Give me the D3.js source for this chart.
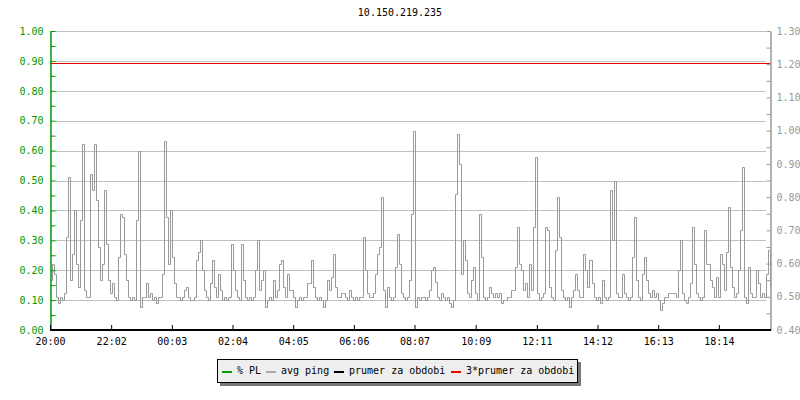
<!DOCTYPE html>
<html>
<head>
<meta charset="utf-8">
<script src="https://cdn.jsdelivr.net/npm/d3@7"></script>
<style>
  body { margin: 0; background: #fff; }
  text { font-family: "DejaVu Sans Mono", monospace; font-size: 10px; }
</style>
</head>
<body>
<svg id="chart" width="800" height="400"></svg>
<script>
const title = "10.150.219.235";
const startTime = new Date(2020, 0, 1, 20, 0);
const spanMinutes = 1436;
const stepMinutes = 4;
const xTickMinutes = [0, 122, 243, 364, 485, 606, 727, 849, 971, 1092, 1213, 1334];
const leftTicks = [0, 0.1, 0.2, 0.3, 0.4, 0.5, 0.6, 0.7, 0.8, 0.9, 1.0];
const rightTicks = [0.4, 0.5, 0.6, 0.7, 0.8, 0.9, 1.0, 1.1, 1.2, 1.3];
const legendLabels = ["% PL", "avg ping", "prumer za obdobi", "3*prumer za obdobi"];
const plAverage = 0;
const plTriple = 0.892;

// avg ping, one value every 4 minutes (right axis)
const avgPing = [
  0.55, 0.60, 0.57, 0.50, 0.48, 0.50, 0.49, 0.51, 0.68, 0.86,
  0.55, 0.63, 0.76, 0.60, 0.53, 0.73, 0.96, 0.52, 0.50, 0.50,
  0.87, 0.82, 0.96, 0.79, 0.65, 0.55, 0.60, 0.82, 0.66, 0.55,
  0.51, 0.54, 0.50, 0.49, 0.62, 0.75, 0.74, 0.63, 0.55, 0.50,
  0.49, 0.50, 0.49, 0.73, 0.94, 0.47, 0.50, 0.50, 0.54, 0.50,
  0.51, 0.49, 0.50, 0.48, 0.50, 0.50, 0.57, 0.97, 0.74, 0.60,
  0.76, 0.62, 0.54, 0.50, 0.50, 0.49, 0.50, 0.52, 0.53, 0.50,
  0.49, 0.49, 0.50, 0.61, 0.635, 0.67, 0.58, 0.52, 0.50, 0.49,
  0.54, 0.61, 0.53, 0.50, 0.57, 0.52, 0.49, 0.50, 0.49, 0.50,
  0.66, 0.58, 0.52, 0.50, 0.49, 0.66, 0.55, 0.50, 0.49, 0.50,
  0.49, 0.50, 0.58, 0.67, 0.52, 0.55, 0.58, 0.47, 0.49, 0.50,
  0.49, 0.55, 0.50, 0.52, 0.60, 0.61, 0.53, 0.50, 0.57, 0.52,
  0.52, 0.50, 0.47, 0.49, 0.50, 0.49, 0.50, 0.50, 0.54, 0.54,
  0.61, 0.53, 0.50, 0.49, 0.50, 0.49, 0.47, 0.49, 0.55, 0.52,
  0.56, 0.63, 0.53, 0.50, 0.50, 0.51, 0.51, 0.50, 0.49, 0.52,
  0.50, 0.49, 0.50, 0.49, 0.50, 0.50, 0.68, 0.58, 0.51, 0.50,
  0.50, 0.51, 0.57, 0.63, 0.65, 0.80, 0.52, 0.47, 0.53, 0.50,
  0.49, 0.50, 0.59, 0.69, 0.60, 0.51, 0.50, 0.49, 0.50, 0.55,
  0.75, 1.00, 0.47, 0.50, 0.49, 0.50, 0.50, 0.49, 0.50, 0.52,
  0.58, 0.59, 0.545, 0.50, 0.49, 0.51, 0.50, 0.49, 0.50, 0.48,
  0.47, 0.49, 0.81, 0.99, 0.90, 0.57, 0.67, 0.61, 0.51, 0.50,
  0.55, 0.59, 0.51, 0.49, 0.75, 0.62, 0.50, 0.49, 0.50, 0.53,
  0.51, 0.50, 0.51, 0.50, 0.51, 0.48, 0.49, 0.49, 0.50, 0.50,
  0.52, 0.52, 0.59, 0.71, 0.60, 0.58, 0.52, 0.54, 0.50, 0.60,
  0.52, 0.71, 0.92, 0.51, 0.49, 0.50, 0.51, 0.71, 0.70, 0.53,
  0.50, 0.49, 0.64, 0.80, 0.68, 0.52, 0.50, 0.49, 0.50, 0.47,
  0.50, 0.52, 0.57, 0.52, 0.50, 0.50, 0.63, 0.58, 0.53, 0.61,
  0.54, 0.50, 0.49, 0.50, 0.48, 0.55, 0.50, 0.49, 0.50, 0.82,
  0.67, 0.85, 0.51, 0.50, 0.50, 0.57, 0.51, 0.50, 0.49, 0.50,
  0.62, 0.74, 0.55, 0.50, 0.49, 0.57, 0.62, 0.55, 0.51, 0.50,
  0.52, 0.50, 0.51, 0.49, 0.46, 0.48, 0.50, 0.50, 0.51, 0.51,
  0.51, 0.51, 0.50, 0.58, 0.67, 0.51, 0.49, 0.48, 0.50, 0.54,
  0.71, 0.60, 0.51, 0.50, 0.49, 0.50, 0.70, 0.60, 0.60, 0.55,
  0.53, 0.50, 0.56, 0.50, 0.63, 0.60, 0.52, 0.635, 0.77, 0.59,
  0.53, 0.50, 0.51, 0.58, 0.70, 0.89, 0.50, 0.48, 0.59, 0.51,
  0.50, 0.50, 0.58, 0.54, 0.50, 0.51, 0.50, 0.57, 0.64, 0.53
];

const svg = d3.select("#chart");
const mLeft = 50, mRight = 770, mTop = 31, mBottom = 330;
const addMin = m => new Date(startTime.getTime() + m * 60000);

const x = d3.scaleTime().domain([startTime, addMin(spanMinutes)]).range([mLeft, mRight]);
const yLeft = d3.scaleLinear().domain([0, 1]).range([mBottom, mTop]);
const yRight = d3.scaleLinear().domain([0.4, 1.3]).range([mBottom, mTop]);

svg.append("text")
  .attr("x", 400).attr("y", 16)
  .attr("text-anchor", "middle")
  .attr("fill", "#000")
  .text(title);

// grid
svg.append("g")
  .selectAll("line")
  .data(leftTicks.filter(d => d > 0))
  .enter().append("line")
    .attr("x1", mLeft + 5).attr("x2", mRight - 4)
    .attr("y1", d => Math.round(yLeft(d)) + 0.5)
    .attr("y2", d => Math.round(yLeft(d)) + 0.5)
    .attr("stroke", "#c0c0c0");

// avg ping
const pts = avgPing.map((v, i) => ({t: addMin(i * stepMinutes), v: v}));
pts.push({t: addMin(spanMinutes), v: avgPing[avgPing.length - 1]});
const line = d3.line()
  .x(d => Math.round(x(d.t)) + 0.5)
  .y(d => Math.round(yRight(d.v)) + 0.5)
  .curve(d3.curveStepAfter);
svg.append("path")
  .datum(pts)
  .attr("d", line)
  .attr("fill", "none")
  .attr("stroke", "#999999")
  .attr("stroke-width", 1);

// 3x average line
svg.append("line")
  .attr("x1", mLeft).attr("x2", mRight)
  .attr("y1", Math.round(yLeft(plTriple)) + 0.5)
  .attr("y2", Math.round(yLeft(plTriple)) + 0.5)
  .attr("stroke", "#e00000");

// left axis
const gl = svg.append("g").attr("transform", `translate(${mLeft + 0.5},0)`);
gl.call(d3.axisLeft(yLeft).tickValues(leftTicks).tickSize(-5).tickSizeOuter(0)
  .tickPadding(7).tickFormat(d3.format(".2f")));
gl.append("g").call(d3.axisLeft(yLeft).tickValues(leftTicks.slice(1).map(d => d - 0.05))
  .tickSize(-5).tickSizeOuter(0).tickFormat(""));
gl.selectAll("path, line").attr("stroke", "#009900");
gl.selectAll("text").attr("fill", "#009900").style("font-family", "DejaVu Sans Mono").style("font-size", "10px");

// right axis
const gr = svg.append("g").attr("transform", `translate(${mRight + 0.5},0)`);
gr.call(d3.axisRight(yRight).tickValues(rightTicks).tickSize(-4).tickSizeOuter(0)
  .tickPadding(6).tickFormat(d3.format(".2f")));
gr.append("g").call(d3.axisRight(yRight).tickValues(rightTicks.slice(1).map(d => d - 0.05))
  .tickSize(-4).tickSizeOuter(0).tickFormat(""));
gr.selectAll("path, line").attr("stroke", "#999999");
gr.selectAll("text").attr("fill", "#999999").style("font-family", "DejaVu Sans Mono").style("font-size", "10px");

// x axis (PL average drawn on it)
const gx = svg.append("g").attr("transform", `translate(0,${mBottom})`);
gx.call(d3.axisBottom(x).tickValues(xTickMinutes.map(addMin)).tickSize(-5).tickSizeOuter(0)
  .tickPadding(8).tickFormat(d3.timeFormat("%H:%M")));
gx.select(".domain").remove();
gx.selectAll("line").attr("stroke", "#000");
gx.selectAll("text").attr("fill", "#000").style("font-family", "DejaVu Sans Mono").style("font-size", "10px");
svg.append("line")
  .attr("x1", mLeft).attr("x2", mRight + 1)
  .attr("y1", yLeft(plAverage)).attr("y2", yLeft(plAverage))
  .attr("stroke", "#000").attr("stroke-width", 2);

// legend
const lg = svg.append("g");
lg.append("rect").attr("x", 220).attr("y", 362).attr("width", 361).attr("height", 24).attr("fill", "#777");
lg.append("rect").attr("x", 217.5).attr("y", 359.5).attr("width", 360).attr("height", 23)
  .attr("fill", "#eeeeee").attr("stroke", "#000");
const legendColors = ["#00a000", "#aaaaaa", "#000000", "#ee0000"];
const itemX = [222, 266, 334, 451];
legendLabels.forEach((name, i) => {
  lg.append("line")
    .attr("x1", itemX[i]).attr("x2", itemX[i] + 10)
    .attr("y1", 372).attr("y2", 372)
    .attr("stroke", legendColors[i]).attr("stroke-width", 2);
  lg.append("text")
    .attr("x", itemX[i] + 15).attr("y", 374)
    .attr("fill", "#000")
    .text(name);
});
</script>
</body>
</html>
